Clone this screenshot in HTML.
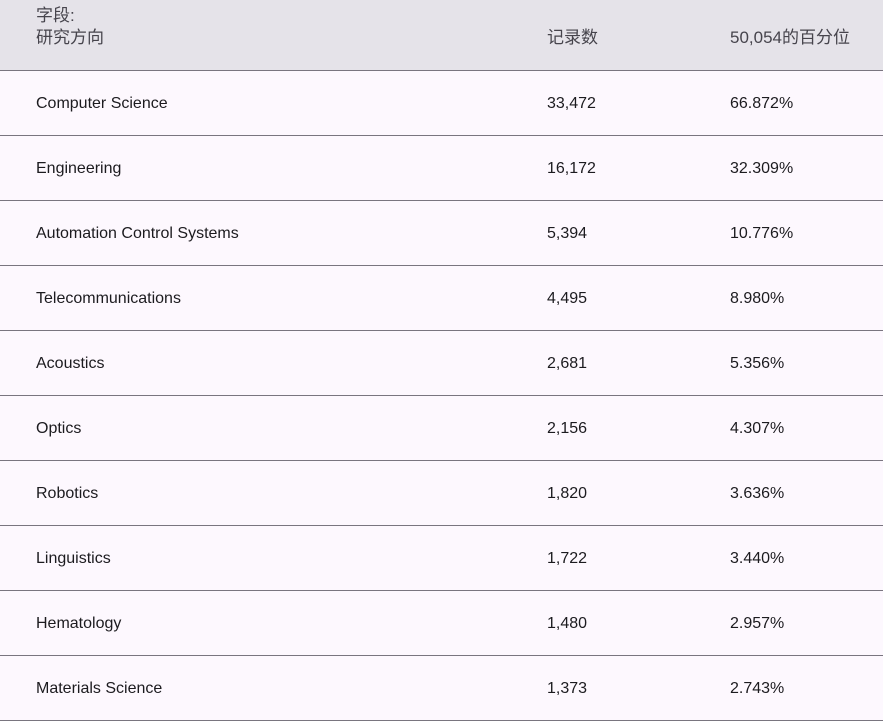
<!DOCTYPE html>
<html><head><meta charset="utf-8"><style>
body{margin:0;width:883px;height:715px;overflow:hidden;background:#fdf8fe;font-family:"Liberation Sans","Noto Sans CJK SC",sans-serif;font-size:16px;color:#1c1b1f}
.hdr{position:absolute;left:0;top:0;width:883px;height:70px;background:#e5e3e9;border-bottom:1px solid #79757f;color:#46444c;font-size:17px}
.t{position:absolute;white-space:nowrap;line-height:20px}
.row{position:absolute;left:0;width:883px;height:64px;border-bottom:1px solid #79757f}
</style></head><body>
<div class="hdr">
<div class="t" style="left:36px;top:6px">字段:</div>
<div class="t" style="left:36px;top:28px">研究方向</div>
<div class="t" style="left:547px;top:28px">记录数</div>
<div class="t" style="left:730px;top:28px">50,054的百分位</div>
</div>
<div id="rows"></div>
<script>
var d=[["Computer Science","33,472","66.872%"],["Engineering","16,172","32.309%"],["Automation Control Systems","5,394","10.776%"],["Telecommunications","4,495","8.980%"],["Acoustics","2,681","5.356%"],["Optics","2,156","4.307%"],["Robotics","1,820","3.636%"],["Linguistics","1,722","3.440%"],["Hematology","1,480","2.957%"],["Materials Science","1,373","2.743%"]];
var h="";d.forEach(function(r,i){var y=71+i*65;h+='<div class="row" style="top:'+y+'px"></div><div class="t" style="left:36px;top:'+(y+23)+'px">'+r[0]+'</div><div class="t" style="left:547px;top:'+(y+23)+'px">'+r[1]+'</div><div class="t" style="left:730px;top:'+(y+23)+'px">'+r[2]+'</div>';});
document.getElementById("rows").innerHTML=h;
</script>
</body></html>
